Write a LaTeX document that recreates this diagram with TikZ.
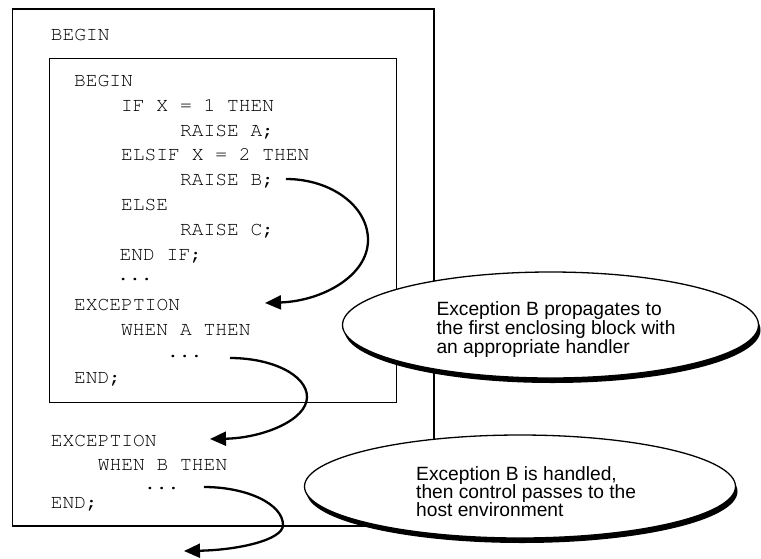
\documentclass[tikz,border=0pt]{standalone}
\usepackage{fontspec}
\usetikzlibrary{shapes.geometric,arrows.meta}
\newfontfamily\notefont{Liberation Sans}
\newcommand\mycodefont{\fontencoding{T1}\fontfamily{pcr}\fontseries{m}\fontshape{n}\fontsize{19.6}{24}\selectfont}
\tikzset{
  code/.style={anchor=base west, inner sep=0pt, font=\mycodefont},
  note/.style={anchor=base west, inner sep=0pt, font=\notefont\fontsize{19.2}{19}\selectfont},
  bubble/.style={ellipse, draw=black, line width=1.3pt, fill=white, inner sep=0pt},
  bubbleshadow/.style={ellipse, fill=black, inner sep=0pt},
  flow/.style={line width=2.3pt, -{Triangle[length=16pt,width=14pt]}},
  outerbox/.style={draw=black, line width=1.7pt},
  innerbox/.style={draw=black, line width=1pt}
}
\begin{document}
\begin{tikzpicture}[x=1pt,y=-1pt]
\useasboundingbox (0,0) rectangle (761,558);
\fill[white] (0,0) rectangle (761,558);
% boxes
\draw[outerbox] (12.5,9) rectangle (434,526);
\draw[innerbox] (49.5,58.5) rectangle (396,402);
% code
\node[code] (ob)  at (50.7,40.5)  {BEGIN};
\node[code] (ib)  at (74,86.5)    {BEGIN};
\node[code] (if)  at (121,111.5)  {IF X = 1 THEN};
\node[code] (ra)  at (179.8,136.5){RAISE A;};
\node[code] (ei)  at (121,160.7)  {ELSIF X = 2 THEN};
\node[code] (rb)  at (179.8,185.7){RAISE B;};
\node[code] (el)  at (121,210.7)  {ELSE};
\node[code] (rc)  at (179.8,235)  {RAISE C;};
\node[code] (ef)  at (119.5,260)  {END IF;};
\node[code] (d1)  at (117.2,280)  {...};
\node[code] (ie)  at (74,310.7)   {EXCEPTION};
\node[code] (wa)  at (121,335.3)  {WHEN A THEN};
\node[code] (d2)  at (167,357)    {...};
\node[code] (ien) at (74,383.3)   {END;};
\node[code] (oe)  at (50.7,446.7) {EXCEPTION};
\node[code] (wb)  at (97.7,470.7) {WHEN B THEN};
\node[code] (d3)  at (143.8,489)  {...};
\node[code] (oen) at (50.7,508.3) {END;};
% arrows
\coordinate (s1) at (286,179);
\coordinate (r1) at (368,240);
\coordinate (t1) at (265,303);
\draw[flow] (s1) .. controls (331,179) and (368,206) .. (r1)
            .. controls (368,276) and (322,301) .. (t1);
\coordinate (s2) at (230,358);
\coordinate (r2) at (307,397);
\coordinate (t2) at (210,439);
\draw[flow] (s2) .. controls (272,358) and (307,375) .. (r2)
            .. controls (307,420) and (263,438) .. (t2);
\coordinate (s3) at (204,487);
\coordinate (r3) at (283,525);
\coordinate (t3) at (184,551);
\draw[flow] (s3) .. controls (247,487) and (283,504) .. (r3)
            .. controls (283,540) and (238,550) .. (t3);
% ellipses
\node[bubbleshadow, minimum width=416pt, minimum height=106pt] (sh1) at (552.5,330) {};
\node[bubble, minimum width=416pt, minimum height=106pt] (b1) at (550.5,325) {};
\node[bubbleshadow, minimum width=431pt, minimum height=103pt] (sh2) at (522,491.5) {};
\node[bubble, minimum width=431pt, minimum height=103pt] (b2) at (520,486.5) {};
\node[note] (n1a) at (436.3,315.5) {Exception B propagates to};
\node[note] (n1b) at (436.3,334.5) {the first enclosing block with};
\node[note] (n1c) at (436.3,353.5) {an appropriate handler};
\node[note] (n2a) at (416,480)   {Exception B is handled,};
\node[note] (n2b) at (416,498.3) {then control passes to the};
\node[note] (n2c) at (416,516.7) {host environment};
\end{tikzpicture}
\end{document}
